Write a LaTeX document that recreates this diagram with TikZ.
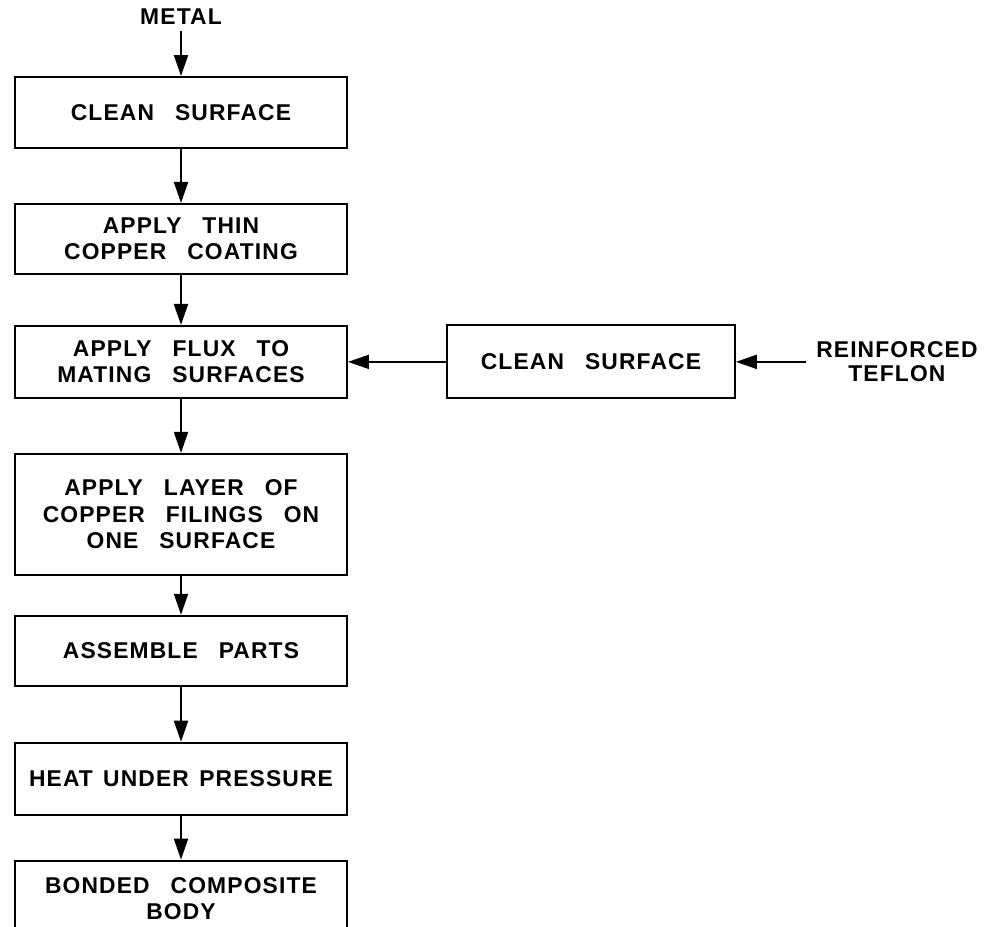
\documentclass[tikz,border=0pt]{standalone}
\usepackage{fontspec}
\setmainfont{Liberation Sans}[LetterSpace=5, WordSpace=2.8]
\usetikzlibrary{arrows.meta,positioning}
\newcommand{\tightwords}{\spaceskip=0.45em\relax}
\tikzset{
  stepbox/.style={draw, line width=1.1pt, align=center,
    font=\fontsize{13pt}{15pt}\selectfont\bfseries,
    minimum width=6.64cm, minimum height=1.42cm},
  feedlabel/.style={align=center, font=\fontsize{13pt}{13.5pt}\selectfont\bfseries},
  flowarrow/.style={-{Triangle[length=0.42cm, width=0.28cm]}, line width=1.2pt}
}

\begin{document}
\begin{tikzpicture}
    \useasboundingbox (0,0) rectangle (19.8,-18.52);
    \node[stepbox] (clean) at (3.62,-2.25) {CLEAN SURFACE};
    \node[stepbox, below=1.08cm of clean, minimum height=1.40cm] (coat) {APPLY THIN\\COPPER COATING};
    \node[stepbox, below=1.0cm of coat, minimum height=1.44cm] (flux) {APPLY FLUX TO\\MATING SURFACES};
    \node[stepbox, below=1.08cm of flux, minimum height=2.42cm] (filings) {APPLY LAYER OF\\COPPER FILINGS ON\\ONE SURFACE};
    \node[stepbox, below=0.78cm of filings, minimum height=1.40cm] (assemble) {ASSEMBLE PARTS};
    \node[stepbox, below=1.1cm of assemble, minimum height=1.44cm, inner xsep=0.05cm] (heat) {\tightwords HEAT UNDER PRESSURE};
    \node[stepbox, below=0.88cm of heat, minimum height=1.52cm] (bonded) {BONDED COMPOSITE\\BODY};
    \node[stepbox, right=1.96cm of flux, minimum width=5.76cm, minimum height=1.46cm] (tclean) {CLEAN SURFACE};
    \node[feedlabel, above=0.9cm of clean, inner sep=0.12cm] (metal) {METAL};
    \node[feedlabel, right=1.4cm of tclean, inner sep=0.2cm] (teflon) {REINFORCED\\TEFLON};
    \draw[flowarrow] (metal) -- (clean);
    \draw[flowarrow] (clean) -- (coat);
    \draw[flowarrow] (coat) -- (flux);
    \draw[flowarrow] (flux) -- (filings);
    \draw[flowarrow] (filings) -- (assemble);
    \draw[flowarrow] (assemble) -- (heat);
    \draw[flowarrow] (heat) -- (bonded);
    \draw[flowarrow] (teflon) -- (tclean);
    \draw[flowarrow] (tclean) -- (flux);
\end{tikzpicture}
\end{document}
